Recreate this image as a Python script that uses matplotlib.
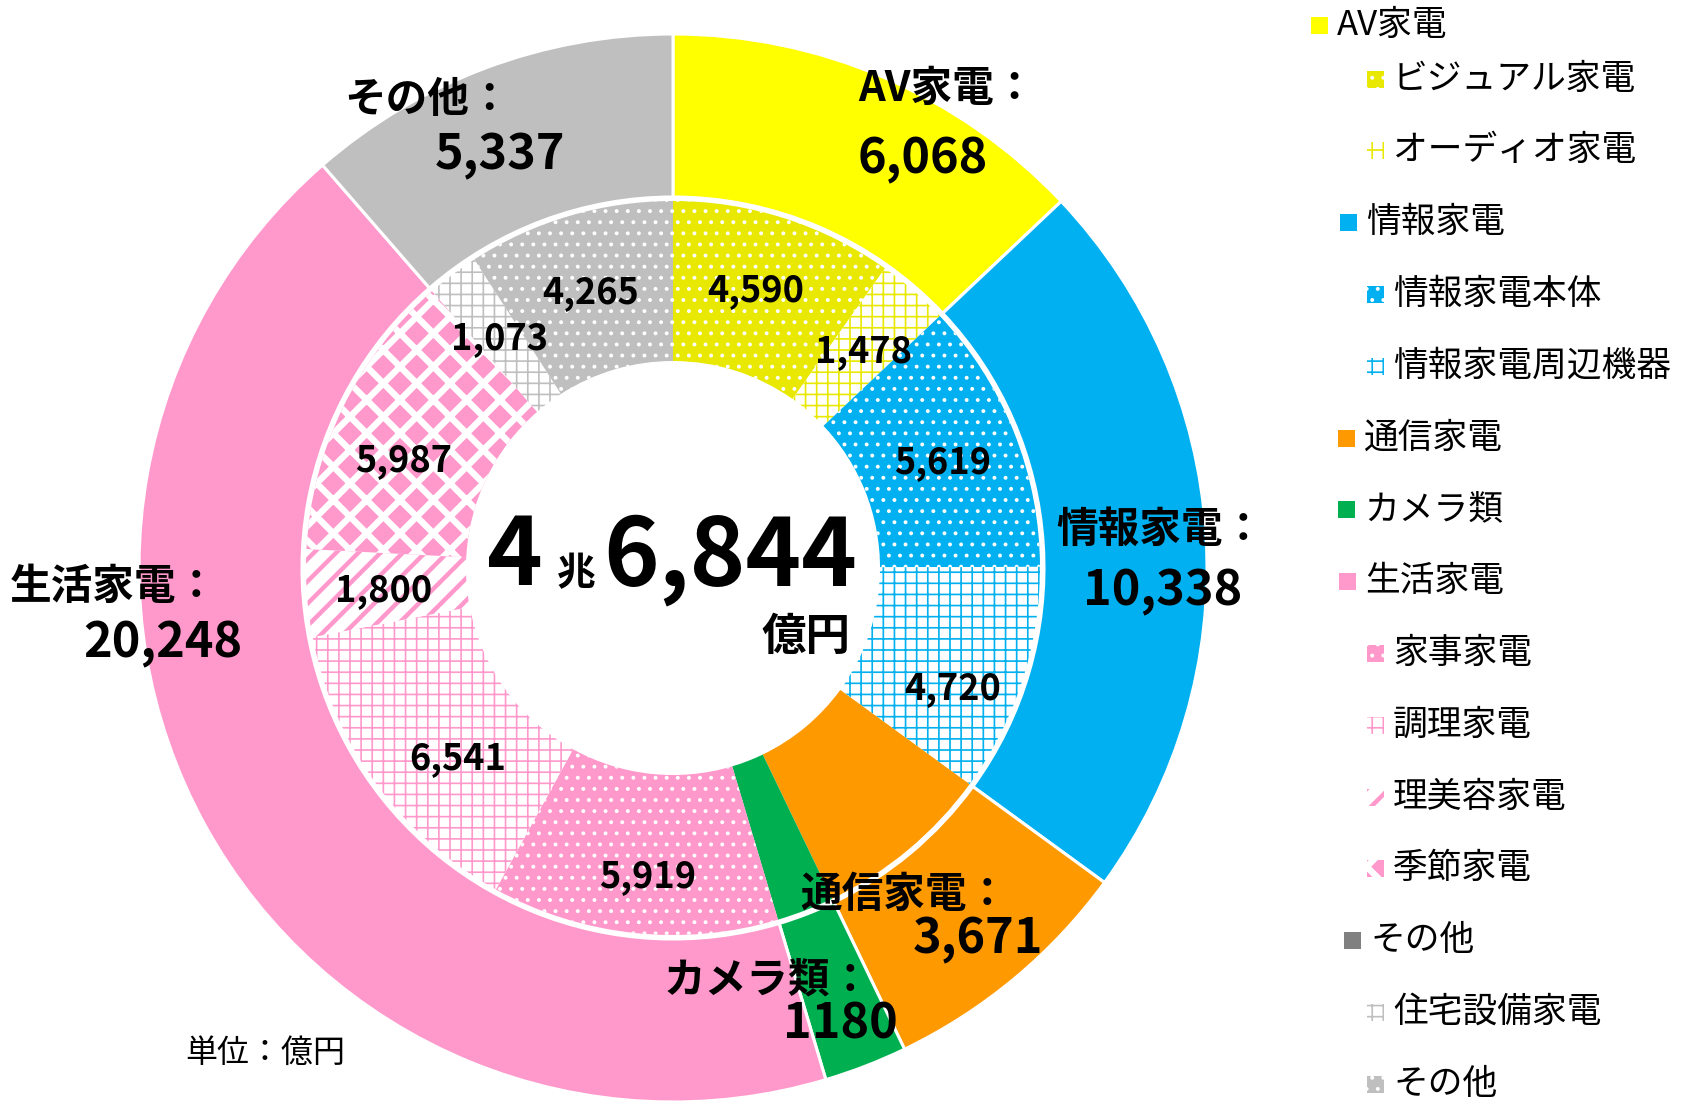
import matplotlib
matplotlib.use("Agg")
import matplotlib.pyplot as plt
from matplotlib.patches import Rectangle

plt.rcParams["font.family"] = ["Noto Sans CJK JP", "DejaVu Sans"]

W, H = 1688, 1105
DPI = 200

# ---- data -------------------------------------------------------------
outer_labels = ["AV家電", "情報家電", "通信家電", "カメラ類", "生活家電", "その他"]
outer_values = [6068, 10338, 3671, 1180, 20248, 5337]
outer_texts = ["6,068", "10,338", "3,671", "1180", "20,248", "5,337"]

inner_labels = ["ビジュアル家電", "オーディオ家電", "情報家電本体", "情報家電周辺機器",
                "通信家電", "カメラ類", "家事家電", "調理家電", "理美容家電",
                "季節家電", "住宅設備家電", "その他"]
inner_values = [4590, 1478, 5619, 4720, 3671, 1180, 5919, 6541, 1800, 5987, 1073, 4265]
inner_shown = [True, True, True, True, False, False, True, True, True, True, True, True]

total_big = ["4", "兆", "6,844", "億円"]
unit_text = "単位：億円"

legend_labels = ["AV家電", "ビジュアル家電", "オーディオ家電", "情報家電", "情報家電本体",
                 "情報家電周辺機器", "通信家電", "カメラ類", "生活家電", "家事家電",
                 "調理家電", "理美容家電", "季節家電", "その他", "住宅設備家電", "その他"]

# ---- styles -----------------------------------------------------------
YEL, YEL2, BLUE, ORG, GRN, PINK, GRAY = ("#FFFF00", "#E8E800", "#00B0F0", "#FF9900",
                                         "#00B050", "#FF99CC", "#BFBFBF")
outer_colors = [YEL, BLUE, ORG, GRN, PINK, GRAY]
# face, hatch colour, hatch, hatch linewidth
STY = {
    "dots": lambda c: (c, "white", "...", 0.6),
    "grid": lambda c: ("white", c, "+++", 0.6),
    "solid": lambda c: (c, c, None, 0.5),
    "stripe": lambda c: ("white", c, "///", 1.6),
    "diamond": lambda c: (c, "white", "xx", 2.3),
}
inner_styles = [STY["dots"](YEL2), STY["grid"](YEL2), STY["dots"](BLUE), STY["grid"](BLUE),
                STY["solid"](ORG), STY["solid"](GRN), STY["dots"](PINK), STY["grid"](PINK),
                STY["stripe"](PINK), STY["diamond"](PINK), STY["grid"](GRAY), STY["dots"](GRAY)]
legend_styles = [STY["solid"](YEL), inner_styles[0], inner_styles[1],
                 STY["solid"](BLUE), inner_styles[2], inner_styles[3],
                 STY["solid"](ORG), STY["solid"](GRN), STY["solid"](PINK)] + \
                inner_styles[6:10] + [STY["solid"]("#808080")] + inner_styles[10:12]
legend_x = [1311, 1367, 1367, 1340, 1367, 1367, 1338, 1338, 1339,
            1367, 1367, 1367, 1367, 1344, 1367, 1367]


def set_hatch(p, face, hc, hatch, hlw):
    p.set_facecolor(face)
    p.set_edgecolor(hc)
    p.set_linewidth(0)
    if hatch:
        p.set_hatch(hatch)
        p.set_hatch_linewidth(hlw)


fig = plt.figure(figsize=(W / DPI, H / DPI), dpi=DPI)
ax = fig.add_axes([0, 0, 1, 1])

CX, CY = 673, H - 568
R_OUT, R_MID, R_IN_OUT, R_HOLE = 534, 371, 367, 207

ow, _ = ax.pie(outer_values, colors=outer_colors, startangle=90, counterclock=False,
               radius=R_OUT, center=(CX, CY),
               wedgeprops=dict(width=R_OUT - R_MID, edgecolor="white", linewidth=1.1))

iw, _ = ax.pie(inner_values, startangle=90, counterclock=False,
               radius=R_IN_OUT, center=(CX, CY),
               wedgeprops=dict(width=R_IN_OUT - R_HOLE))
for w, st in zip(iw, inner_styles):
    set_hatch(w, *st)

# inner value labels (placed as in the original chart)
inner_pos = [(756, 291), (864, 352), (943, 463), (953, 689), None, None,
             (648, 877), (458, 759), (384, 591), (404, 461), (500, 339), (591, 293)]
for v, show, pos in zip(inner_values, inner_shown, inner_pos):
    if not show:
        continue
    ax.text(pos[0], H - pos[1], f"{v:,}", ha="center", va="center",
            fontsize=13, fontweight="bold")

# outer category labels (hand placed, as in the original)
name_pos = [(858, 89, "left"), (1160, 530, "center"), (904, 895, "center"),
            (768, 981, "center"), (114, 587, "center"), (428, 100, "center")]
num_pos = [(858, 159, "left"), (1163, 592, "center"), (978, 939, "center"),
           (840, 1024, "center"), (163, 643, "center"), (500, 156, "center")]
for lab, txt, (nx, ny, nha), (vx, vy, vha) in zip(outer_labels, outer_texts, name_pos, num_pos):
    ax.text(nx, H - ny, lab + "：", ha=nha, va="center", fontsize=15, fontweight="bold")
    ax.text(vx, H - vy, txt, ha=vha, va="center", fontsize=17.5, fontweight="bold")

# centre total
ax.text(487, H - 585, total_big[0], ha="left", va="baseline", fontsize=34, fontweight="bold")
ax.text(557, H - 585, total_big[1], ha="left", va="baseline", fontsize=14, fontweight="bold")
ax.text(603, H - 585, total_big[2], ha="left", va="baseline", fontsize=34, fontweight="bold")
ax.text(806, H - 637, total_big[3], ha="center", va="center", fontsize=16, fontweight="bold")

ax.text(265, H - 1053, unit_text, ha="center", va="center", fontsize=11.5)

# legend
SQ = 17
for i, (lab, st, lx) in enumerate(zip(legend_labels, legend_styles, legend_x)):
    ly = 25 + (54 if i > 0 else 0) + max(i - 1, 0) * 71.8
    sq = Rectangle((lx, H - ly - SQ / 2), SQ, SQ)
    set_hatch(sq, *st)
    ax.add_patch(sq)
    ax.text(lx + SQ + 9, H - ly, lab, ha="left", va="center", fontsize=12.5)

ax.set_xlim(0, W)
ax.set_ylim(0, H)
ax.set_aspect("equal")
ax.axis("off")

fig.savefig("out.png", dpi=DPI)
